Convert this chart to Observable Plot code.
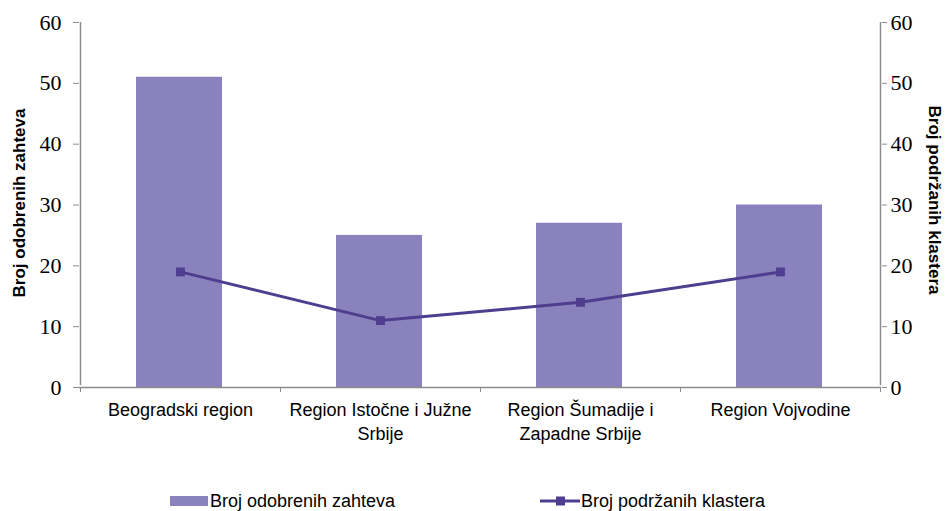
<!DOCTYPE html>
<html>
<head>
<meta charset="utf-8">
<script src="https://cdn.jsdelivr.net/npm/d3@7"></script>
<script src="https://cdn.jsdelivr.net/npm/@observablehq/plot@0.6"></script>
<style>
  body { margin: 0; background: #fff; }
  #chart { position: relative; width: 945px; height: 460px; }
  #legend { position: relative; width: 945px; height: 51px; font-family: "Liberation Sans", Arial, sans-serif; font-size: 18px; color: #000; }
  .item { position: absolute; top: 28px; height: 26px; display: flex; align-items: center; white-space: nowrap; }
</style>
</head>
<body>
<div id="chart"></div>
<div id="legend">
  <div class="item" style="left:170px;"><svg width="38" height="14"><rect x="0" y="2" width="38" height="10" fill="#8A82BD"></rect></svg><span style="margin-left:2px">Broj odobrenih zahteva</span></div>
  <div class="item" style="left:540px;"><svg width="40" height="14"><line x1="0" y1="7" x2="40" y2="7" stroke="#4F3E8F" stroke-width="3"></line><rect x="16" y="2.5" width="9" height="9" fill="#4F3E8F"></rect></svg><span style="margin-left:1px">Broj podržanih klastera</span></div>
</div>
<script>
const categories = ["Beogradski region", "Region Istočne i Južne Srbije", "Region Šumadije i Zapadne Srbije", "Region Vojvodine"];
const categoryLabels = ["Beogradski region", "Region Istočne i Južne\nSrbije", "Region Šumadije i\nZapadne Srbije", "Region Vojvodine"];
const approvedRequests = [51, 25, 27, 30];
const supportedClusters = [19, 11, 14, 19];
const yTicks = [0, 10, 20, 30, 40, 50, 60];
const leftTitle = "Broj odobrenih zahteva";
const rightTitle = "Broj podržanih klastera";

const data = categories.map((c, i) => ({category: c, bars: approvedRequests[i], line: supportedClusters[i]}));
const labelOf = new Map(categories.map((c, i) => [c, categoryLabels[i]]));
const bounds = categories.map((c) => ({category: c, side: -1}));
bounds.push({category: categories[categories.length - 1], side: 1});
const axisLines = [{category: categories[0], side: -1}, {category: categories[categories.length - 1], side: 1}];

const barColor = "#8A82BD";
const lineColor = "#4F3E8F";
const axisGray = "#8C8C8C";
const serif = "'Liberation Serif', 'Times New Roman', serif";
const sans = "'Liberation Sans', Arial, sans-serif";

function shiftToEdge(list) {
  return (index, scales, values, dims, ctx, next) => {
    const step = scales.x.bandwidth ? scales.x.bandwidth() : 200;
    const g = next(index, scales, values, dims, ctx);
    d3.select(g).selectAll("line").each(function(_, j) {
      const b = list[index[j]];
      d3.select(this).attr("transform", `translate(${b.side * step / 2},0)`);
    });
    return g;
  };
}

const plot = Plot.plot({
  width: 945,
  height: 460,
  marginLeft: 79,
  marginRight: 64,
  marginTop: 22,
  marginBottom: 73,
  style: {fontFamily: sans, background: "#fff", overflow: "visible"},
  x: {type: "band", domain: categories, padding: 0, axis: null},
  y: {domain: [0, 60], axis: null},
  marks: [
    Plot.barY(data, {x: "category", y: "bars", fill: barColor, insetLeft: 57, insetRight: 57, dx: -1}),
    Plot.ruleX(axisLines, {x: "category", y1: 0, y2: 60, insetTop: -2, stroke: axisGray, strokeWidth: 1.5, render: shiftToEdge(axisLines)}),
    Plot.ruleY([0], {stroke: axisGray, strokeWidth: 1.5}),
    Plot.ruleX(bounds, {x: "category", y1: 0, y2: 0, insetBottom: -5, stroke: axisGray, strokeWidth: 1, render: shiftToEdge(bounds)}),
    Plot.axisY({anchor: "left", ticks: yTicks, tickSize: 6, tickPadding: 12, stroke: axisGray, fill: "#000", fontSize: 22, label: null}),
    Plot.axisY({anchor: "right", ticks: yTicks, tickSize: 5, tickPadding: 4, stroke: axisGray, fill: "#000", fontSize: 22, label: null}),
    Plot.axisX({tickSize: 0, tickPadding: 11, tickFormat: d => labelOf.get(d), fontSize: 18, fill: "#000", lineHeight: 1.35, label: null}),
    Plot.line(data, {x: "category", y: "line", stroke: lineColor, strokeWidth: 3}),
    Plot.dot(data, {x: "category", y: "line", symbol: "square", r: 5, fill: lineColor, stroke: "none"}),
    Plot.text([leftTitle], {frameAnchor: "left", textAnchor: "middle", dx: -60, dy: -2, rotate: -90, fontSize: 17, fontWeight: "bold", fill: "#000"}),
    Plot.text([rightTitle], {frameAnchor: "right", textAnchor: "middle", dx: 53, dy: -5, rotate: 90, fontSize: 17, fontWeight: "bold", fill: "#000"})
  ]
});
// y tick labels use a serif face, as in the reference
d3.select(plot).selectAll("g[aria-label='y-axis tick label']")
  .attr("font-family", serif).attr("fill", "#000").style("font-family", serif);
document.getElementById("chart").appendChild(plot);
</script>
</body>
</html>
